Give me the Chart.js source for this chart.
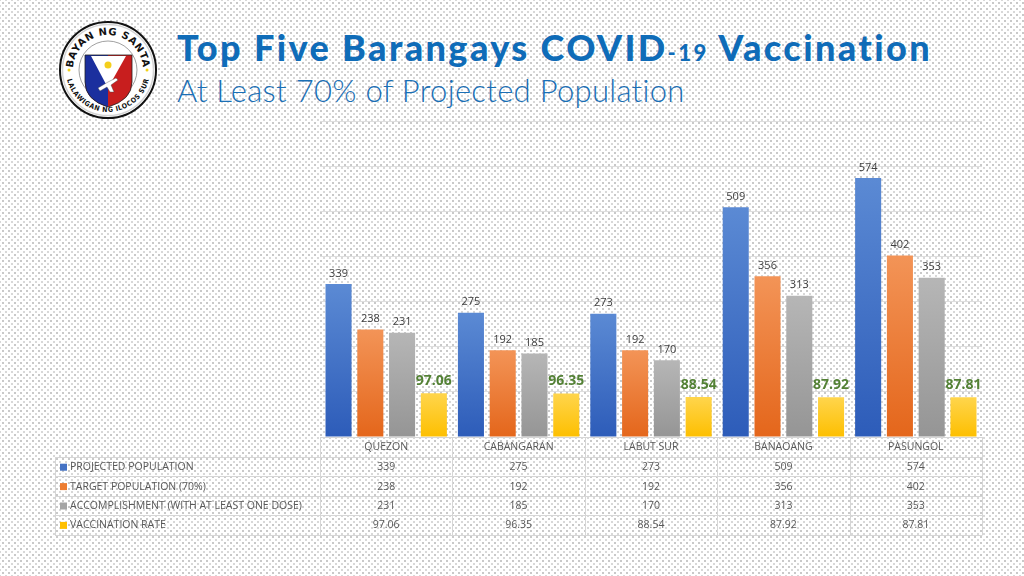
<!DOCTYPE html>
<html>
<head>
<meta charset="utf-8">
<script src="https://cdn.jsdelivr.net/npm/chart.js@4.4.1/dist/chart.umd.min.js"></script>
<style>
    html, body {
        margin: 0;
        padding: 0;
        width: 1024px;
        height: 576px;
        overflow: hidden;
    }
    body {
        position: relative;
        background-color: #ffffff;
        background-image:
            radial-gradient(circle, #c9c9c9 0.8px, transparent 1.1px),
            radial-gradient(circle, #d8d8d8 0.8px, transparent 1.1px);
        background-size: 6px 6px, 6px 6px;
        background-position: 0 0, 3px 3px;
    }
    #logo {
        position: absolute;
        left: 58px;
        top: 20px;
    }
    #title {
        position: absolute;
        left: 177px;
        top: 27px;
        font-family: Lato, "Open Sans", sans-serif;
        font-weight: 900;
        font-size: 36px;
        letter-spacing: 2.4px;
        color: #0f6cb8;
        white-space: nowrap;
        line-height: 40px;
    }
    #title small {
        font-size: 22px;
        font-weight: 900;
    }
    #subtitle {
        position: absolute;
        left: 177px;
        top: 72px;
        font-family: Lato, "Open Sans", sans-serif;
        font-weight: 300;
        font-size: 31px;
        letter-spacing: 0.3px;
        color: #1a6fb5;
        white-space: nowrap;
        line-height: 36px;
    }
    #chartWrap {
        position: absolute;
        left: 0;
        top: 0;
        width: 1024px;
        height: 576px;
    }
</style>
</head>
<body>

<svg id="logo" width="100" height="100" viewBox="0 0 100 100">
    <defs>
        <path id="arcTop" d="M 15 50 A 35 35 0 0 1 85 50"/>
        <path id="arcBottom" d="M 13 50 A 37 37 0 0 0 87 50"/>
    </defs>
    <circle cx="50" cy="50" r="48" fill="#ffffff" stroke="#111111" stroke-width="2"/>
    <circle cx="50" cy="50" r="45.5" fill="none" stroke="#d4d4d4" stroke-width="1.5"/>
    <circle cx="50" cy="50" r="29" fill="none" stroke="#777777" stroke-width="0.7"/>
    <text font-family="DejaVu Sans" font-weight="bold" font-size="10" fill="#111111" text-anchor="middle" letter-spacing="0.6">
        <textPath href="#arcTop" startOffset="50%">BAYAN NG SANTA</textPath>
    </text>
    <text font-family="DejaVu Sans Condensed, DejaVu Sans" font-weight="bold" font-size="7" fill="#111111" text-anchor="middle" dominant-baseline="hanging">
        <textPath href="#arcBottom" startOffset="50%">LALAWIGAN NG ILOCOS SUR</textPath>
    </text>
    <circle cx="11" cy="50" r="1.5" fill="#f2d21a"/>
    <circle cx="89" cy="50" r="1.5" fill="#f2d21a"/>
    <!-- shield -->
    <path d="M 27 35 L 74 35 L 74 62 Q 74 80 50 87 Q 27 80 27 62 Z" fill="#c81e1e"/>
    <path d="M 27 35 L 50 35 L 50 87 Q 27 80 27 62 Z" fill="#1b2f9e"/>
    <path d="M 33 36 L 68 36 L 50 68 Z" fill="#ffffff"/>
    <circle cx="50" cy="45" r="3.5" fill="#f4cf1c"/>
    <path d="M 40 68 L 50 62 L 58 58 L 60 60 L 53 65 L 56 72 L 52 72 L 49 67 L 42 71 Z" fill="#ffffff" stroke="#444" stroke-width="0.4"/>
    <path d="M 27 35 L 74 35 L 74 62 Q 74 80 50 87 Q 27 80 27 62 Z" fill="none" stroke="#222" stroke-width="0.8"/>
</svg>

<div id="title">Top Five Barangays COVID<small>-19</small> Vaccination</div>
<div id="subtitle">At Least 70% of Projected Population</div>

<div id="chartWrap"><canvas id="chart" width="1024" height="576"></canvas></div>

<script>
// Chart data
const barangays = ['QUEZON', 'CABANGARAN', 'LABUT SUR', 'BANAOANG', 'PASUNGOL'];
const seriesNames = [
    'PROJECTED POPULATION',
    'TARGET POPULATION (70%)',
    'ACCOMPLISHMENT (WITH AT LEAST ONE DOSE)',
    'VACCINATION RATE'
];
const projectedPopulation = [339, 275, 273, 509, 574];
const targetPopulation = [238, 192, 192, 356, 402];
const accomplishment = [231, 185, 170, 313, 353];
const vaccinationRate = [97.06, 96.35, 88.54, 87.92, 87.81];
const rateLabels = ['97.06', '96.35', '88.54', '87.92', '87.81'];

// Colours: solid for table legend, top/bottom for bar gradients
const solidColors = ['#4472c4', '#ed7d31', '#a5a5a5', '#ffc000'];
const gradColors = [
    ['#5b8ad4', '#2d5cb9'],
    ['#f39457', '#e4661b'],
    ['#b6b6b6', '#959595'],
    ['#ffd54c', '#fdbf00']
];

const FONT = '"Open Sans", "Noto Sans", sans-serif';

// Per-bar vertical gradient (light top, darker base)
function barGradient(idx) {
    return (context) => {
        const chart = context.chart;
        const area = chart.chartArea;
        if (!area || context.parsed == null) return solidColors[idx];
        const y = chart.scales.y;
        const top = y.getPixelForValue(context.parsed.y);
        const base = y.getPixelForValue(0);
        if (!isFinite(top) || top === base) return solidColors[idx];
        const g = chart.ctx.createLinearGradient(0, top, 0, base);
        g.addColorStop(0, gradColors[idx][0]);
        g.addColorStop(1, gradColors[idx][1]);
        return g;
    };
}

// Value labels above the bars
const barLabels = {
    id: 'barLabels',
    afterDatasetsDraw(chart) {
        const ctx = chart.ctx;
        ctx.save();
        ctx.textAlign = 'center';
        ctx.textBaseline = 'bottom';
        chart.data.datasets.forEach((ds, i) => {
            const meta = chart.getDatasetMeta(i);
            meta.data.forEach((bar, j) => {
                if (i === 3) {
                    ctx.font = 'bold 14px ' + FONT;
                    ctx.fillStyle = '#538135';
                    ctx.fillText(rateLabels[j], bar.x, bar.y - 5);
                } else {
                    ctx.font = '11px ' + FONT;
                    ctx.fillStyle = '#404040';
                    ctx.fillText(String(ds.data[j]), bar.x, bar.y - 5);
                }
            });
        });
        ctx.restore();
    }
};

// Data table under the plot, aligned to the category scale
const dataTable = {
    id: 'dataTable',
    afterDraw(chart) {
        const ctx = chart.ctx;
        const area = chart.chartArea;
        const x = chart.scales.x;
        const tableLeft = 55;
        const headTop = area.bottom;
        const rowH = 19.4;
        const headBottom = headTop + 20;
        const rows = [projectedPopulation, targetPopulation, accomplishment, rateLabels];

        // column boundaries from the category scale
        const bounds = [];
        const step = x.getPixelForValue(1) - x.getPixelForValue(0);
        for (let i = 0; i <= barangays.length; i++) {
            bounds.push(x.getPixelForValue(0) - step / 2 + i * step);
        }

        ctx.save();
        ctx.strokeStyle = '#d6d6d6';
        ctx.lineWidth = 1;
        ctx.beginPath();
        // header top
        ctx.moveTo(bounds[0], headTop + 0.5);
        ctx.lineTo(bounds[bounds.length - 1], headTop + 0.5);
        // row lines
        for (let r = 0; r <= rows.length; r++) {
            const yy = Math.round(headBottom + r * rowH) + 0.5;
            ctx.moveTo(tableLeft, yy);
            ctx.lineTo(bounds[bounds.length - 1], yy);
        }
        const tableBottom = Math.round(headBottom + rows.length * rowH) + 0.5;
        // column lines
        bounds.forEach(bx => {
            ctx.moveTo(Math.round(bx) + 0.5, headTop);
            ctx.lineTo(Math.round(bx) + 0.5, tableBottom);
        });
        ctx.moveTo(tableLeft + 0.5, headBottom);
        ctx.lineTo(tableLeft + 0.5, tableBottom);
        ctx.stroke();

        ctx.textBaseline = 'middle';
        ctx.font = '10.5px ' + FONT;
        ctx.fillStyle = '#595959';
        ctx.textAlign = 'center';
        barangays.forEach((name, i) => {
            ctx.fillText(name, x.getPixelForValue(i), headTop + 10.5);
        });

        rows.forEach((row, r) => {
            const cy = headBottom + r * rowH + rowH / 2 + 0.5;
            ctx.fillStyle = solidColors[r];
            ctx.fillRect(60, cy - 3.5, 7, 7);
            ctx.fillStyle = '#595959';
            ctx.textAlign = 'left';
            ctx.fillText(seriesNames[r], 70, cy);
            ctx.textAlign = 'center';
            row.forEach((v, i) => {
                ctx.fillText(String(v), x.getPixelForValue(i), cy);
            });
        });
        ctx.restore();
    }
};

const datasetValues = [projectedPopulation, targetPopulation, accomplishment, vaccinationRate];

new Chart(document.getElementById('chart'), {
    type: 'bar',
    data: {
        labels: barangays,
        datasets: datasetValues.map((vals, i) => ({
            label: seriesNames[i],
            data: vals,
            backgroundColor: barGradient(i),
            borderWidth: 0,
            categoryPercentage: 0.96,
            barPercentage: 0.82
        }))
    },
    options: {
        responsive: false,
        animation: false,
        devicePixelRatio: 1,
        layout: {
            padding: { left: 320, right: 42, top: 121, bottom: 139 }
        },
        plugins: {
            legend: { display: false },
            tooltip: { enabled: false },
            title: { display: false }
        },
        scales: {
            x: {
                grid: { display: false, drawTicks: false },
                border: { display: false },
                ticks: { display: false }
            },
            y: {
                min: 0,
                max: 700,
                grid: { color: '#dedede', drawTicks: false },
                border: { display: false },
                ticks: { display: false, stepSize: 100 }
            }
        }
    },
    plugins: [barLabels, dataTable]
});
</script>
</body>
</html>
